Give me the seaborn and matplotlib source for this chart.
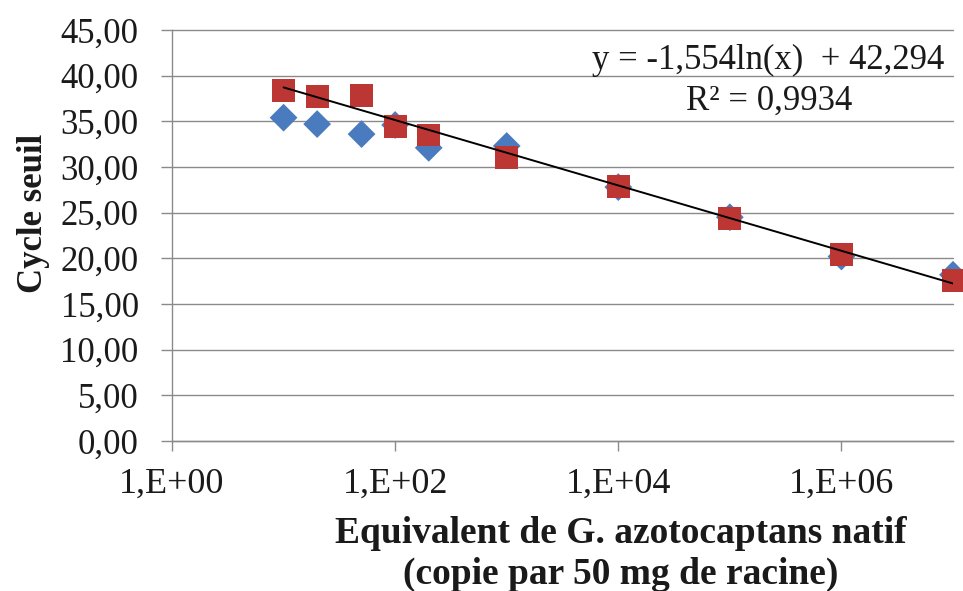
import numpy as np
import pandas as pd
import matplotlib
matplotlib.use("Agg")
import matplotlib.pyplot as plt
import seaborn as sns

# ---- data ----
copies = [10, 20, 50, 100, 200, 1000, 1e4, 1e5, 1e6, 1e7]
ct_blue = [35.4, 34.7, 33.6, 34.6, 32.1, 32.3, 27.8, 24.5, 20.2, 18.2]
ct_red = [38.4, 37.7, 37.8, 34.4, 33.5, 31.0, 27.9, 24.4, 20.4, 17.6]
slope = -1.554
intercept = 42.294
r2_text = "R² = 0,9934"
eq_text = "y = -1,554ln(x)  + 42,294"
y_ticks = [0, 5, 10, 15, 20, 25, 30, 35, 40, 45]
x_ticks = [1, 1e2, 1e4, 1e6]
x_tick_labels = ["1,E+00", "1,E+02", "1,E+04", "1,E+06"]
x_label = "Equivalent de G. azotocaptans natif\n(copie par 50 mg de racine)"
y_label = "Cycle seuil"

sns.set_theme(style="white")
plt.rcParams["font.family"] = ["Liberation Serif", "DejaVu Serif"]

df_blue = pd.DataFrame({"x": copies, "y": ct_blue})
df_red = pd.DataFrame({"x": copies, "y": ct_red})
x_fit = np.geomspace(min(copies), max(copies), 50)
df_fit = pd.DataFrame({"x": x_fit, "y": slope * np.log(x_fit) + intercept})

fig = plt.figure(figsize=(9.63, 5.91), dpi=100)
ax = fig.add_axes([172 / 963, 150 / 591, (953 - 172) / 963, (441 - 30) / 591])
ax.set_xscale("log")
ax.set_xlim(1, 1e7)
ax.set_ylim(0, 45)

grid_c = "#8a8a8a"
for v in y_ticks:
    ax.axhline(v, color=grid_c, lw=1.0, zorder=0.5, clip_on=False)

sns.scatterplot(data=df_blue, x="x", y="y", ax=ax, marker="D", s=200,
                color="#4A7BBE", edgecolor="none", linewidth=0, zorder=3, clip_on=False)
sns.scatterplot(data=df_red, x="x", y="y", ax=ax, marker="s", s=270,
                color="#BC3733", edgecolor="none", linewidth=0, zorder=4, clip_on=False)
sns.lineplot(data=df_fit, x="x", y="y", ax=ax, color="black", lw=1.4, zorder=5)

ax.set_yticks(y_ticks)
ax.set_yticklabels([f"{v:.2f}".replace(".", ",") for v in y_ticks])
ax.set_xticks(x_ticks)
ax.set_xticklabels(x_tick_labels)
ax.xaxis.set_minor_locator(matplotlib.ticker.NullLocator())

ax.tick_params(axis="y", which="major", direction="out", length=8, width=1,
               color=grid_c, pad=16, labelsize=25, labelcolor="#1a1a1a", left=True)
ax.tick_params(axis="x", which="major", direction="out", length=7, width=1,
               color=grid_c, pad=12, labelsize=26, labelcolor="#1a1a1a", bottom=True)

for side in ["top", "right"]:
    ax.spines[side].set_visible(False)
for side in ["left", "bottom"]:
    ax.spines[side].set_color(grid_c)
    ax.spines[side].set_linewidth(1.0)

ax.set_xlabel(x_label, fontsize=27, fontweight="bold", color="#1a1a1a",
              linespacing=1.2, va="top", ha="center")
ax.xaxis.set_label_coords((621 - 172) / 781, (441 - 516) / 411)
ax.set_ylabel(y_label, fontsize=25, fontweight="bold", color="#1a1a1a", va="center")
ax.yaxis.set_label_coords((34 - 172) / 781, (441 - 213) / 411)

ax.text((768 - 172) / 781, (441 - 60) / 411, eq_text, transform=ax.transAxes,
        ha="center", va="center", fontsize=25, color="#1a1a1a")
ax.text((769 - 172) / 781, (441 - 101) / 411, r2_text, transform=ax.transAxes,
        ha="center", va="center", fontsize=25, color="#1a1a1a")

fig.savefig("out.png", dpi=100)
